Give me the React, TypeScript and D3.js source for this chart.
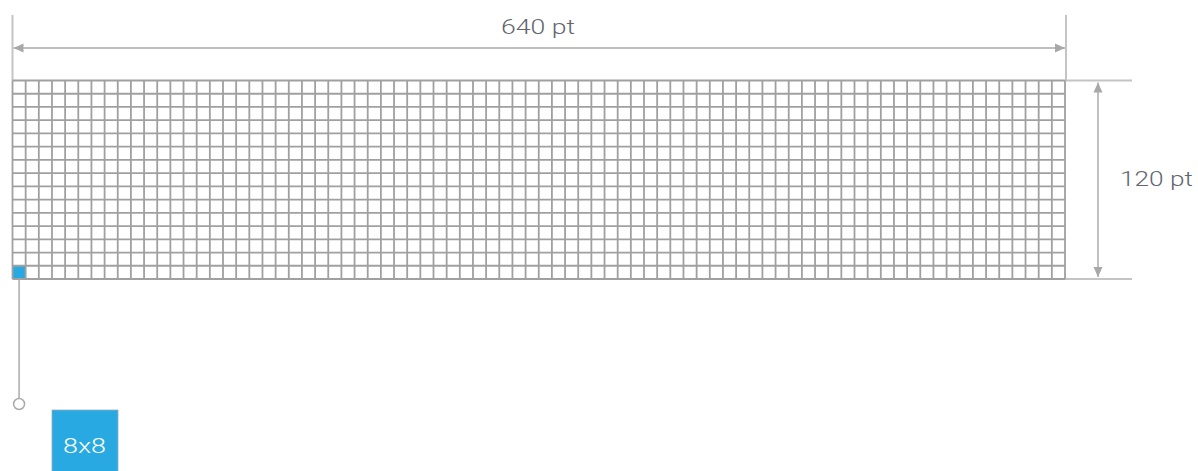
import React from "react";
import * as d3 from "d3";

// canvas dimensions in pt, cell size in pt
const canvasSize = { width: 640, height: 120 };
const cellSize = 8;
const widthLabel = "640 pt";
const heightLabel = "120 pt";
const cellLabel = "8x8";
const highlightCell = [0, 14]; // column, row

export default function App() {
  const W = 1198;
  const H = 471;

  const x = d3.scaleLinear().domain([0, canvasSize.width]).range([12.5, 1065]);
  const y = d3.scaleLinear().domain([0, canvasSize.height]).range([80.5, 279]);

  const colLines = d3.range(0, canvasSize.width + 1, cellSize);
  const rowLines = d3.range(0, canvasSize.height + 1, cellSize);

  const gridColor = "#a0a0a0";
  const dimColor = "#c4c4c4";
  const blue = "#29a9e1";
  const font = "Roboto, 'Open Sans', sans-serif";
  const textColor = "#626670";

  const [hc, hr] = highlightCell;
  const cx0 = x(hc * cellSize);
  const cx1 = x((hc + 1) * cellSize);
  const cy0 = y(hr * cellSize);
  const cy1 = y((hr + 1) * cellSize);
  const leaderX = (cx0 + cx1) / 2;

  const arrowY = 48;
  const arrowX = 1098;

  return (
    <svg width={W} height={H} style={{ position: "absolute", left: 0, top: 0 }}>
      <defs>
        <marker id="arr" viewBox="0 0 10 10" refX="10" refY="5" markerWidth="10" markerHeight="10"
          markerUnits="userSpaceOnUse" orient="auto-start-reverse">
          <path d="M0,0.5 L10,5 L0,9.5 Z" fill="#a8a8a8" />
        </marker>
      </defs>
      <rect width={W} height={H} fill="#fff" />

      {/* extension lines */}
      <line x1={x(0)} x2={x(0)} y1={15} y2={y(0)} stroke={dimColor} strokeWidth={2} />
      <line x1={x(canvasSize.width) + 1} x2={x(canvasSize.width) + 1} y1={15} y2={y(0)} stroke={dimColor} strokeWidth={2} />
      <line x1={x(canvasSize.width)} x2={1132} y1={y(0)} y2={y(0)} stroke={dimColor} strokeWidth={2} />
      <line x1={x(canvasSize.width)} x2={1132} y1={y(canvasSize.height)} y2={y(canvasSize.height)} stroke={dimColor} strokeWidth={2} />

      {/* width dimension */}
      <line x1={x(0) + 1} x2={x(canvasSize.width)} y1={arrowY} y2={arrowY} stroke="#aaa" strokeWidth={1.5}
        markerStart="url(#arr)" markerEnd="url(#arr)" />
      <text x={501} y={34} fontFamily={font} fontWeight={300} textLength={74} lengthAdjust="spacingAndGlyphs"
        fontSize={21} fill={textColor}>{widthLabel}</text>

      {/* height dimension */}
      <line x1={arrowX} x2={arrowX} y1={y(0) + 2} y2={y(canvasSize.height) - 2} stroke="#c0c0c0" strokeWidth={2}
        markerStart="url(#arr)" markerEnd="url(#arr)" />
      <text x={1120} y={186} fontFamily={font} fontWeight={300} fontSize={21} textLength={73} lengthAdjust="spacingAndGlyphs"
        fill={textColor}>{heightLabel}</text>

      {/* grid */}
      <rect x={cx0} y={cy0} width={cx1 - cx0} height={cy1 - cy0} fill={blue} />
      {colLines.map((v) => (
        <line key={"c" + v} x1={x(v)} x2={x(v)} y1={y(0)} y2={y(canvasSize.height)} stroke={gridColor} strokeWidth={1.8} />
      ))}
      {rowLines.map((v) => (
        <line key={"r" + v} x1={x(0)} x2={x(canvasSize.width)} y1={y(v)} y2={y(v)} stroke={gridColor} strokeWidth={1.8} />
      ))}

      {/* callout */}
      <line x1={leaderX} x2={leaderX} y1={cy1} y2={398} stroke="#aaa" strokeWidth={1.5} />
      <circle cx={leaderX} cy={404} r={5.5} fill="#fff" stroke="#aaa" strokeWidth={1.5} />
      <rect x={52} y={410} width={66} height={70} fill={blue} stroke="#9ab" strokeWidth={0.8} />
      <text x={63} y={453} fontFamily={font} fontWeight={300} fontSize={21} textLength={43} lengthAdjust="spacingAndGlyphs"
        fill="#fff">{cellLabel}</text>
    </svg>
  );
}
